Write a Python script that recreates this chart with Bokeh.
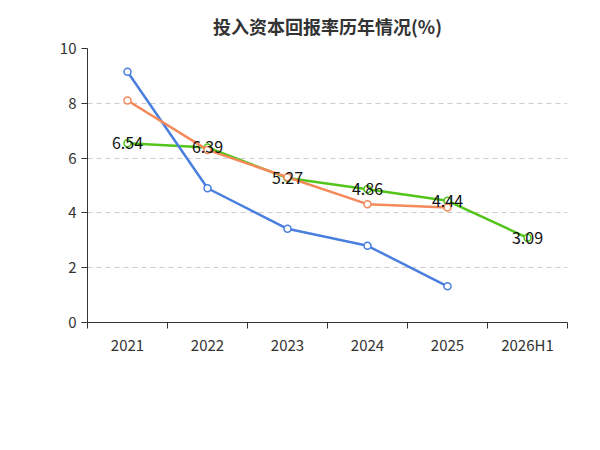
import math
from bokeh.plotting import figure
from bokeh.models import FixedTicker, Label, Legend, LegendItem, ColumnDataSource
from bokeh.embed import file_html
from bokeh.resources import INLINE

categories = ["2021", "2022", "2023", "2024", "2025", "2026H1"]
company = [6.54, 6.39, 5.27, 4.86, 4.44, 3.09]
industry_avg = [9.15, 4.90, 3.42, 2.80, 1.32]
industry_median = [8.10, 6.30, 5.30, 4.32, 4.20]
y_ticks = [0, 2, 4, 6, 8, 10]

FONT = "Noto Sans CJK SC"
p = figure(width=584, height=434, output_backend="svg", toolbar_location=None,
           x_range=(-0.5, 5.5), y_range=(0, 10),
           min_border_left=87, min_border_right=17, min_border_top=20, min_border_bottom=112)
p.outline_line_color = None
p.background_fill_color = "white"
p.title.text = "投入资本回报率历年情况(%)"
p.title.align = "center"
p.title.text_font = FONT
p.title.text_font_size = "18px"
p.title.text_color = "#333333"
p.title.standoff = 20

p.xgrid.grid_line_color = None
p.ygrid.grid_line_color = "#cccccc"
p.ygrid.grid_line_dash = "5 4"
p.yaxis.ticker = FixedTicker(ticks=y_ticks)
p.xaxis.ticker = FixedTicker(ticks=list(range(6)), minor_ticks=[i - 0.5 for i in range(7)])
p.xaxis.major_label_overrides = {i: c for i, c in enumerate(categories)}
p.xaxis.major_tick_out = 0
p.xaxis.major_tick_in = 0
p.xaxis.minor_tick_out = 6
p.xaxis.minor_tick_in = 0
p.yaxis.major_tick_in = 0
p.yaxis.major_tick_out = 6
for ax in (p.xaxis, p.yaxis):
    ax.axis_line_color = "#333333"
    ax.major_tick_line_color = "#333333"
    ax.minor_tick_line_color = "#333333"
    ax.major_label_text_font = FONT
    ax.major_label_text_font_size = "15px"
    ax.major_label_text_color = "#333333"
p.yaxis.minor_tick_line_color = None

xs = list(range(6))
items = []
for name, vals, col in [("公司投入资本回报率", company, "#52c41a"),
                        ("行业均值", industry_avg, "#4a7fe0"),
                        ("行业中位数", industry_median, "#f5895a")]:
    x = xs[:len(vals)]
    l = p.line(x, vals, line_color=col, line_width=2.5)
    c = p.scatter(x, vals, size=7, fill_color="white", line_color=col, line_width=1.5)
    items.append(LegendItem(label=name, renderers=[l, c]))

src = ColumnDataSource(dict(x=xs, y=company, t=["%.2f" % v for v in company]))
p.text("x", "y", text="t", source=src, text_align="center", text_baseline="middle",
       text_font_size="16px", text_color="#111111", text_font={"value": FONT})

legend = Legend(items=items, orientation="horizontal", location=(-48, -92),
                label_text_font=FONT, label_text_font_size="16px", label_text_color="#333333",
                border_line_color=None, background_fill_alpha=0,
                glyph_width=40, spacing=25, margin=0)
p.add_layout(legend, "center")

p.add_layout(Label(x=-0.5, y=9.0, x_offset=-52, text="(%)", angle=math.pi / 2,
                   text_font=FONT, text_font_size="12px", text_color="#f5895a"))
p.add_layout(Label(x=2.5, y=0, y_offset=-118, text="制图数据来自恒生聚源数据库",
                   text_align="center", text_font=FONT, text_font_size="12px",
                   text_color="#c8a060"))

open("out.html", "w").write(file_html(p, INLINE))
